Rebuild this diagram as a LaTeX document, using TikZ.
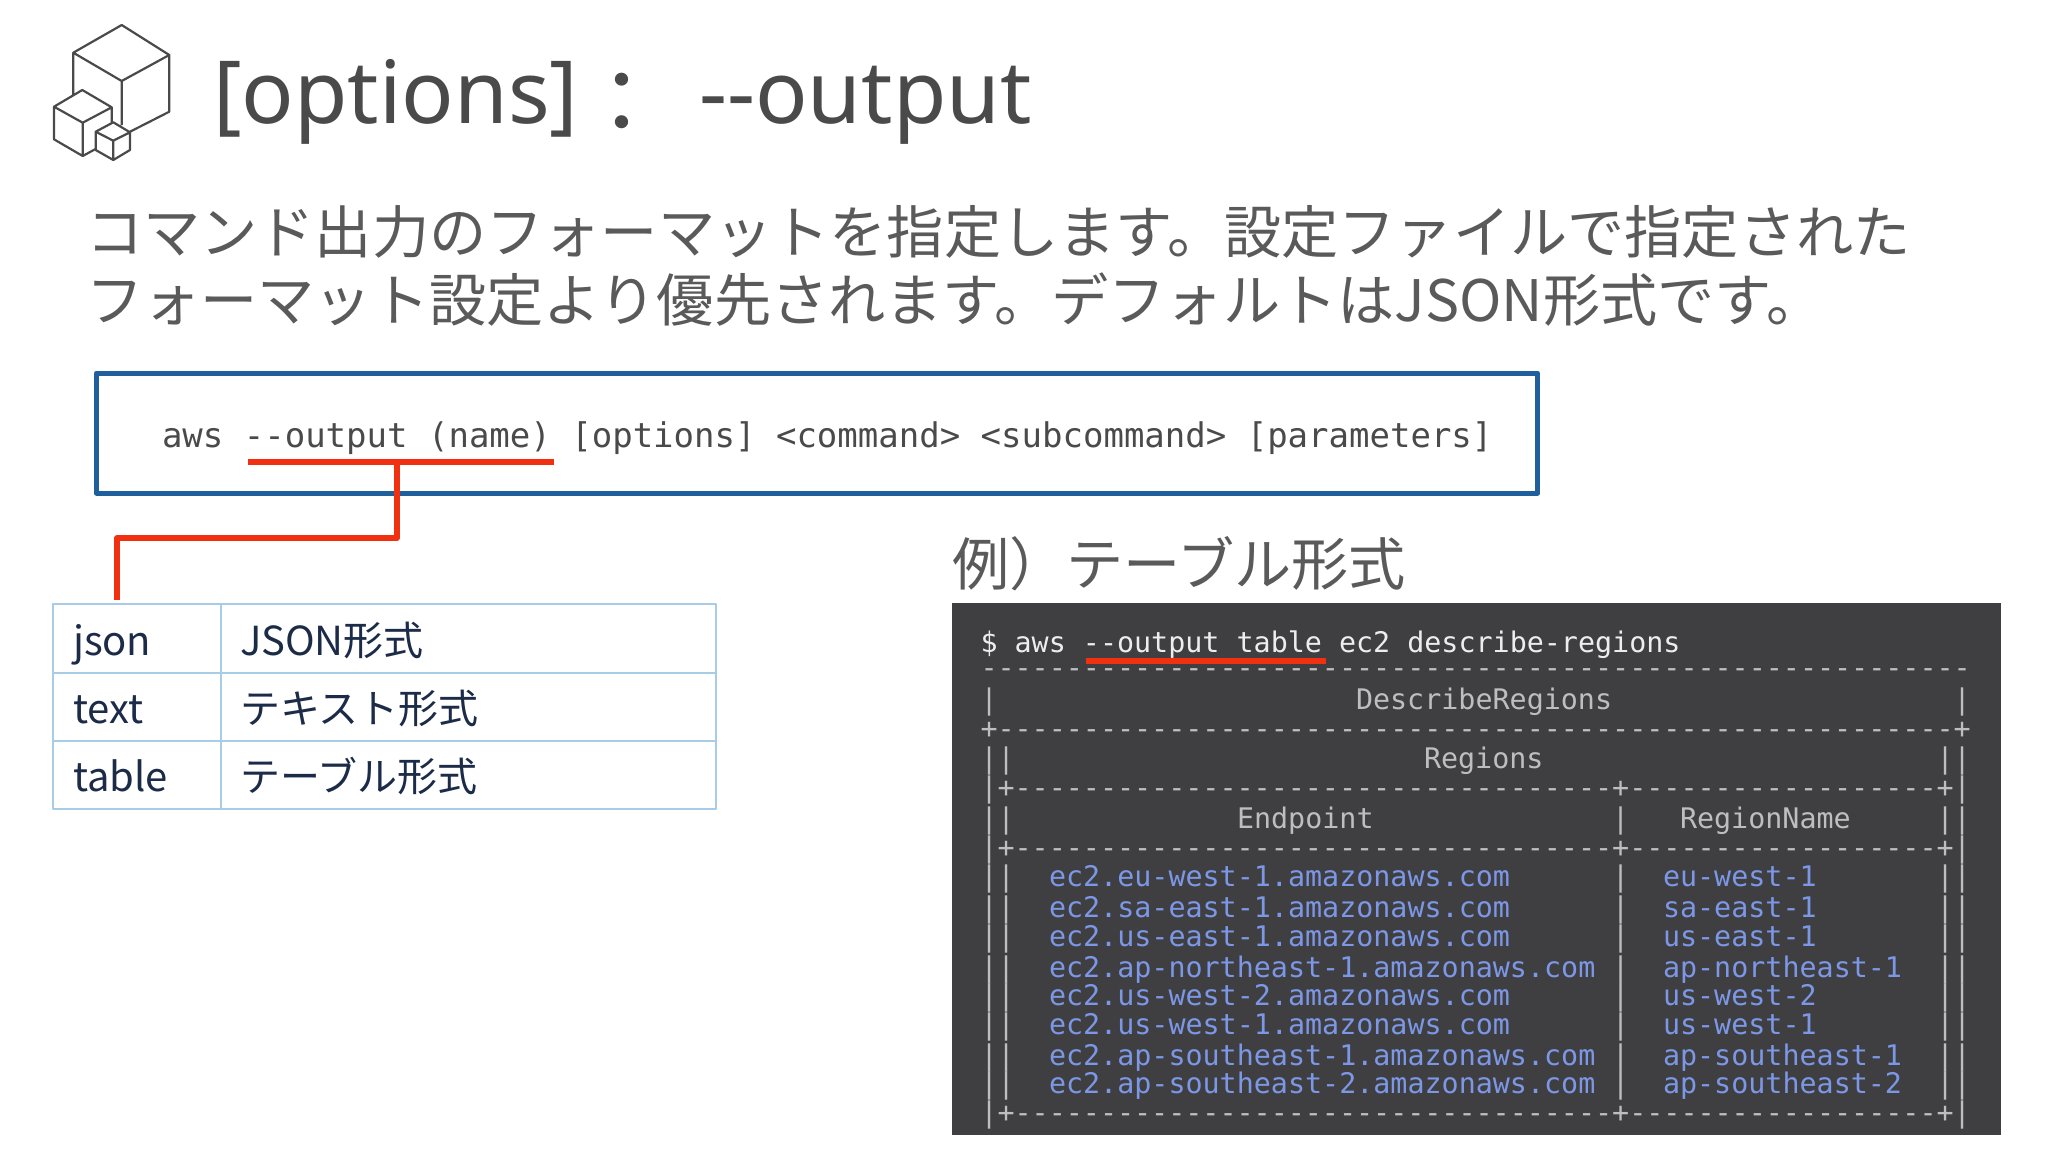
\documentclass[tikz,border=0pt]{standalone}
\usepackage{fontspec}
\setmainfont{Noto Sans}
\newfontfamily\jpfont{Noto Sans CJK JP}
\newfontfamily\latinfont{Noto Sans}
\newfontfamily\codefont{DejaVu Sans Mono}
\definecolor{titlegray}{HTML}{4A4A4A}
\definecolor{paragray}{HTML}{5A5A5A}
\definecolor{cmdblue}{HTML}{1F5F9C}
\definecolor{linered}{HTML}{F03010}
\definecolor{cellblue}{HTML}{A8CCE6}
\definecolor{cellink}{HTML}{1B2B48}
\definecolor{termbg}{HTML}{3F3F41}
\definecolor{termgray}{HTML}{BEBEBE}
\definecolor{termblue}{HTML}{7C97E6}
\tikzset{
  txt/.style={anchor=base west,inner sep=0pt,outer sep=0pt},
  titletxt/.style={txt,text=titlegray,font=\latinfont\fontsize{43.5}{43.5}\selectfont},
  paratxt/.style={txt,text=paragray,font=\jpfont\fontsize{28.6}{28.6}\selectfont},
  cmdtxt/.style={txt,text=titlegray,font=\codefont\fontsize{17}{17}\selectfont},
  celltxt/.style={txt,text=cellink,font=\jpfont\fontsize{20}{20}\selectfont},
  termtxt/.style={txt,text=termgray,font=\codefont\fontsize{14.18}{14.18}\selectfont},
  termdata/.style={termtxt,text=termblue},
  redline/.style={linered,line width=2.8pt},
}
\begin{document}
\begin{tikzpicture}[x=0.5pt,y=-0.5pt,line join=round]
\useasboundingbox[fill=white] (0,0) rectangle (2048,1152);
% cubes
\draw[titlegray,line width=1.1pt]
(73.3,95)--(73.3,52.7)--(121.7,25)--(169.3,55)--(169.3,111.7)--(130,131.7)
(73.3,52.7)--(121.7,81)--(169.3,55)
(121.7,81)--(121.7,125)
(54,106.7)--(82.3,90)--(111.7,107.3)--(82.7,122.7)--cycle
(54,106.7)--(54,139.3)--(82.7,156)--(95,149.3)
(82.7,122.7)--(82.7,156)
(111.7,107.3)--(111.7,122)
(95.7,131.7)--(113.3,122.3)--(130,132.3)--(113.3,140.7)--cycle
(95.7,131.7)--(95.7,150)--(113.3,160)--(130,150)--(130,132.3)
(113.3,140.7)--(113.3,160);
\path
(213,123)node[titletxt](title){[options]{\jpfont\raisebox{-5pt}{：}}\hspace{17pt}--output}
(86,253)node[paratxt](paraA){コマンド出力のフォーマットを指定します。設定ファイルで指定された}
(86,321)node[paratxt](paraB){フォーマット設定より優先されます。デフォルトはJSON形式です。}
(952,585)node[paratxt](extitle){例）テーブル形式}
;
% command box
\node[draw=cmdblue,line width=2.5pt,minimum width=1441*0.5pt,minimum height=120*0.5pt,inner sep=0pt] (cmdbox) at (817,433) {};
\node[cmdtxt] (cmdline) at (162,447) {aws --output (name) [options] <command> <subcommand> [parameters]};
\coordinate (ulleft) at (248,462);
\coordinate (ulright) at (554,462);
\coordinate (uldrop) at (397,464);
\coordinate (tblin) at (117,600);
\draw[redline] (ulleft)--(ulright);
\draw[redline] (uldrop)--(397,538)-|(tblin);
% format table
\draw[cellblue,line width=1pt] (53,604) rectangle (716,809) (221,604)--(221,809)
(53,673)--(716,673) (53,741)--(716,741);
\path
(73,655)node[celltxt](jsonkey){json}
(240,655)node[celltxt](jsonval){JSON形式}
(73,723)node[celltxt](textkey){text}
(240,723)node[celltxt](textval){テキスト形式}
(73,791)node[celltxt](tablekey){table}
(240,791)node[celltxt](tableval){テーブル形式}
;
% terminal
\fill[termbg] (952,603) rectangle (2001,1135);
\path
(980.5,652)node[termtxt,text=white!93!black](prompt){\$ aws --output table ec2 describe-regions}
(980.5,677)node[termtxt](ruleA){----------------------------------------------------------}
(980.5,709)node[termtxt](rowA){|}
(1356,709)node[termtxt](describe){DescribeRegions}
(1953.5,709)node[termtxt](rowAend){|}
(980.5,738)node[termtxt](ruleB){+--------------------------------------------------------+}
(980.5,768)node[termtxt](rowB){||}
(1424,768)node[termtxt](regions){Regions}
(1936.5,768)node[termtxt](rowBend){||}
(980.5,797)node[termtxt](ruleC){|+-----------------------------------+------------------+|}
(980.5,828)node[termtxt](rowC){||}
(1237,828)node[termtxt](endpoint){Endpoint}
(1612,828)node[termtxt](rowCmid){|}
(1680,828)node[termtxt](regionname){RegionName}
(1936.5,828)node[termtxt](rowCend){||}
(980.5,857)node[termtxt](ruleD){|+-----------------------------------+------------------+|}
(980.5,1122)node[termtxt](ruleE){|+-----------------------------------+------------------+|}
;
\foreach \y/\ep/\rn in {886/ec2.eu-west-1.amazonaws.com/eu-west-1,917/ec2.sa-east-1.amazonaws.com/sa-east-1,946/ec2.us-east-1.amazonaws.com/us-east-1,977/ec2.ap-northeast-1.amazonaws.com/ap-northeast-1,1005/ec2.us-west-2.amazonaws.com/us-west-2,1034/ec2.us-west-1.amazonaws.com/us-west-1,1065/ec2.ap-southeast-1.amazonaws.com/ap-southeast-1,1093/ec2.ap-southeast-2.amazonaws.com/ap-southeast-2}{
\node[termtxt] (bar\y) at (980.5,\y) {||};
\node[termdata] (ep\y) at (1049,\y) {\ep};
\node[termtxt] (mid\y) at (1612,\y) {|};
\node[termdata] (rn\y) at (1663,\y) {\rn};
\node[termtxt] (end\y) at (1936.5,\y) {||};
}
\coordinate (termleft) at (1086,661);
\coordinate (termright) at (1326,661);
\draw[redline] (termleft)--(termright);
\end{tikzpicture}
\end{document}
